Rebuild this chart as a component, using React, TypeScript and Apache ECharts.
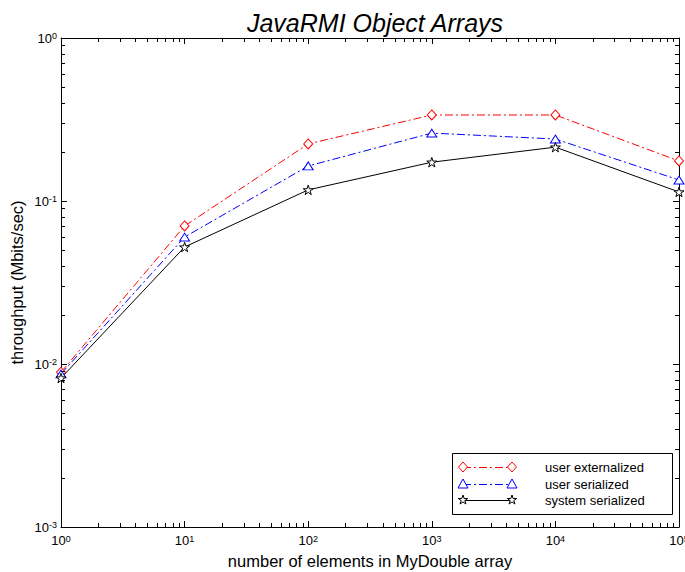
import React, { useEffect, useRef } from 'react';
import * as echarts from 'echarts';

const xValues = [1, 10, 100, 1000, 10000, 100000];
const userExternalized = [0.0089, 0.0703, 0.224, 0.337, 0.337, 0.176];
const userSerialized = [0.0087, 0.0601, 0.164, 0.261, 0.24, 0.1345];
const systemSerialized = [0.0082, 0.0522, 0.117, 0.173, 0.214, 0.1136];
const seriesNames = ['user externalized', 'user serialized', 'system serialized'];
const titleText = 'JavaRMI Object Arrays';
const xName = 'number of elements in MyDouble array';
const yName = 'throughput (Mbits/sec)';
const xDecades = [1, 10, 100, 1000, 10000];
const yDecades = [0.001, 0.01, 0.1];
const minorMultipliers = [2, 3, 4, 5, 6, 7, 8, 9];

const FONT = 'Liberation Sans, Arial, Helvetica, sans-serif';
const STAR = 'path://M50 0L61.2 34.5L97.6 34.5L68.2 55.9L79.4 90.5L50 69.1L20.6 90.5L31.8 55.9L2.4 34.5L38.8 34.5Z';
const DIAMOND = 'path://M50 0L100 50L50 100L0 50Z';
const TRIANGLE = 'path://M50 0L100 87L0 87Z';

const xMinor: number[] = [];
xDecades.forEach((d) => minorMultipliers.forEach((m) => xMinor.push(d * m)));
const yMinor: number[] = [];
yDecades.forEach((d) => minorMultipliers.forEach((m) => yMinor.push(d * m)));

const powLabel = (v: number) => {
  const e = Math.round(Math.log10(v));
  return `{b|10}{s|${e}}`;
};

const rich = {
  b: { fontSize: 13, lineHeight: 13, fontFamily: FONT, color: '#000', verticalAlign: 'middle' },
  s: { fontSize: 9, lineHeight: 9, fontFamily: FONT, color: '#000', verticalAlign: 'top', padding: [0, 0, 13, 0] },
};

function starPoints(cx: number, cy: number, r: number) {
  const pts: number[][] = [];
  for (let i = 0; i < 10; i++) {
    const a = -Math.PI / 2 + (i * Math.PI) / 5;
    const rr = i % 2 === 0 ? r : r * 0.382;
    pts.push([cx + rr * Math.cos(a), cy + rr * Math.sin(a)]);
  }
  return pts;
}

export default function App() {
  const ref = useRef<HTMLDivElement>(null);
  useEffect(() => {
    document.body.style.margin = '0';
    const chart = echarts.init(ref.current!, null, { renderer: 'svg' });

    const tickSeries = (vals: number[], isX: boolean) => ({
      type: 'custom',
      silent: true,
      clip: false,
      z: 5,
      data: vals.map((v) => (isX ? [v, 0.5] : [10, v])),
      renderItem: (params: any, api: any) => {
        const cs = params.coordSys;
        const p = api.coord([api.value(0), api.value(1)]);
        const len = 4;
        const style = { stroke: '#000', lineWidth: 1 };
        if (isX) {
          const x = Math.round(p[0]) + 0.5;
          const top = cs.y;
          const bottom = cs.y + cs.height;
          return {
            type: 'group',
            children: [
              { type: 'line', shape: { x1: x, y1: bottom, x2: x, y2: bottom - len }, style },
              { type: 'line', shape: { x1: x, y1: top, x2: x, y2: top + len }, style },
            ],
          };
        }
        const y = Math.round(p[1]) + 0.5;
        const left = cs.x;
        const right = cs.x + cs.width;
        return {
          type: 'group',
          children: [
            { type: 'line', shape: { x1: left, y1: y, x2: left + len, y2: y }, style },
            { type: 'line', shape: { x1: right, y1: y, x2: right - len, y2: y }, style },
          ],
        };
      },
    });

    const lineSeries = (name: string, vals: number[], color: string, symbol: string, size: any, dash: any) => ({
      type: 'line',
      name,
      data: xValues.map((x, i) => [x, vals[i]]),
      symbol,
      symbolSize: size,
      symbolKeepAspect: true,
      showAllSymbol: true,
      lineStyle: { color, width: 1, type: dash },
      itemStyle: { color: '#fff', borderColor: color, borderWidth: 1 },
      z: 3,
    });

    const lx0 = 463;
    const lx1 = 512;
    const ly = [467, 484, 500];
    const legendEls: any[] = [
      {
        type: 'rect',
        shape: { x: 452.5, y: 453.5, width: 220, height: 61 },
        style: { fill: '#fff', stroke: '#000', lineWidth: 1 },
        z: 10,
      },
    ];
    const colors = ['#ff0000', '#0000ff', '#000000'];
    const dashes: any[] = [[8, 3, 2, 3], [8, 3, 2, 3], null];
    seriesNames.forEach((name, i) => {
      const y = ly[i];
      legendEls.push({
        type: 'line',
        shape: { x1: lx0, y1: y + 0.5, x2: lx1, y2: y + 0.5 },
        style: { stroke: colors[i], lineWidth: 1, lineDash: dashes[i] || undefined },
        z: 11,
      });
      [lx0, lx1].forEach((cx) => {
        let pts: number[][];
        if (i === 0) pts = [[cx, y - 5], [cx + 4.5, y], [cx, y + 5], [cx - 4.5, y]];
        else if (i === 1) pts = [[cx, y - 5], [cx + 5, y + 4], [cx - 5, y + 4]];
        else pts = starPoints(cx, y, 5);
        legendEls.push({
          type: 'polygon',
          shape: { points: pts },
          style: { fill: '#fff', stroke: colors[i], lineWidth: 1 },
          z: 12,
        });
      });
      legendEls.push({
        type: 'text',
        x: 545,
        y,
        style: { text: name, fontSize: 13, fontFamily: FONT, fill: '#000', verticalAlign: 'middle', align: 'left' },
        z: 12,
      });
    });

    const axisCommon = {
      type: 'log',
      logBase: 10,
      axisLine: { show: true, lineStyle: { color: '#000', width: 1 } },
      axisTick: { show: true, inside: true, length: 6, lineStyle: { color: '#000' } },
      splitLine: { show: false },
      minorTick: { show: false },
      nameMoveOverlap: false,
    };

    chart.setOption({
      animation: false,
      backgroundColor: '#fff',
      title: {
        text: titleText,
        left: 370,
        top: 5,
        textAlign: 'center',
        textStyle: { fontSize: 25, fontStyle: 'italic', fontWeight: 'normal', fontFamily: FONT, color: '#000' },
      },
      grid: { left: 61, right: 6, top: 38, bottom: 45, containLabel: false, outerBoundsMode: 'none' },
      xAxis: [
        {
          ...axisCommon,
          min: 1,
          max: 100000,
          position: 'bottom',
          name: xName,
          nameLocation: 'middle',
          nameGap: 34,
          nameTextStyle: { fontSize: 16.5, fontFamily: FONT, color: '#000', verticalAlign: 'middle' },
          axisLabel: { formatter: powLabel, rich, margin: 7, showMaxLabel: true, showMinLabel: true, hideOverlap: false },
        },
        {
          ...axisCommon,
          min: 1,
          max: 100000,
          position: 'top',
          axisLabel: { show: false },
        },
      ],
      yAxis: [
        {
          ...axisCommon,
          min: 0.001,
          max: 1,
          position: 'left',
          name: yName,
          nameLocation: 'middle',
          nameGap: 44,
          nameTextStyle: { fontSize: 16.5, fontFamily: FONT, color: '#000', verticalAlign: 'middle' },
          axisLabel: { formatter: powLabel, rich, margin: 4, showMaxLabel: true, showMinLabel: true },
        },
        {
          ...axisCommon,
          min: 0.001,
          max: 1,
          position: 'right',
          axisLabel: { show: false },
        },
      ],
      series: [
        lineSeries(seriesNames[0], userExternalized, '#ff0000', DIAMOND, [9, 10], [8, 3, 2, 3]),
        lineSeries(seriesNames[1], userSerialized, '#0000ff', TRIANGLE, [10, 9], [8, 3, 2, 3]),
        lineSeries(seriesNames[2], systemSerialized, '#000000', STAR, 10, 'solid'),
        tickSeries(xMinor, true),
        tickSeries(yMinor, false),
      ],
      graphic: legendEls,
    });
    return () => chart.dispose();
  }, []);
  return <div ref={ref} style={{ width: 685, height: 572, position: 'absolute', left: 0, top: 0 }} />;
}
